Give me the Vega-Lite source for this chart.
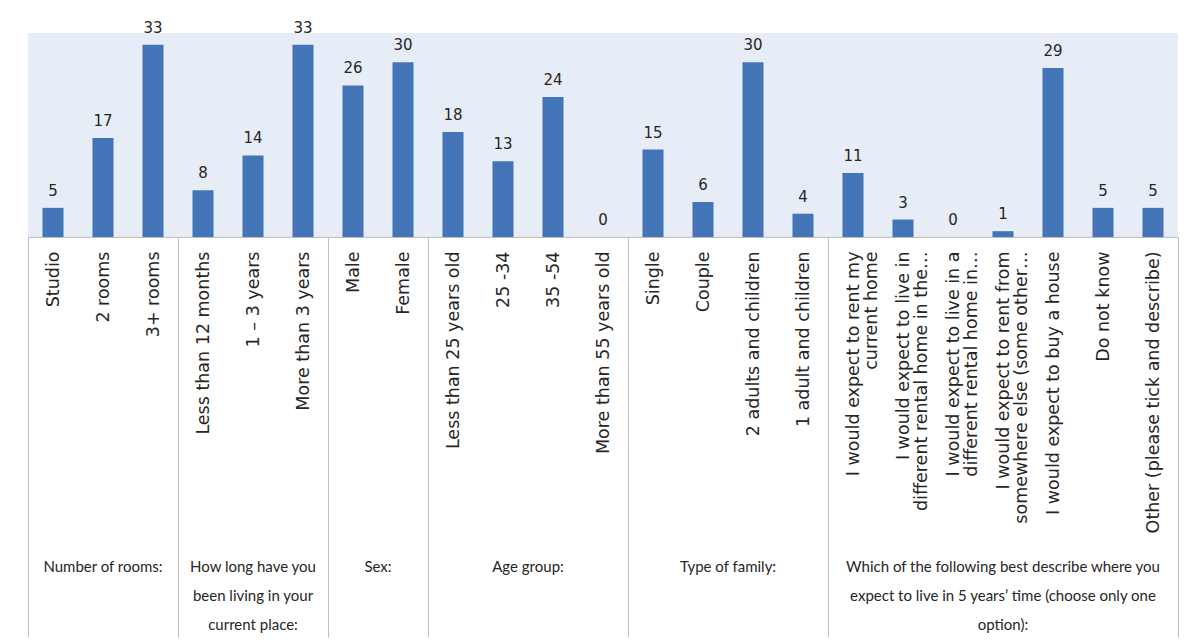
{
  "$schema": "https://vega.github.io/schema/vega-lite/v6.json",
  "padding": {"left": 27, "top": 20, "right": 0, "bottom": 0},
  "autosize": {"type": "pad"},
  "background": "white",
  "bounds": "flush",
  "data": {"values": [
    {"group": "Number of rooms:", "category": "Studio", "value": 5},
    {"group": "Number of rooms:", "category": "2 rooms", "value": 17},
    {"group": "Number of rooms:", "category": "3+ rooms", "value": 33},
    {"group": "How long have you|been living in your|current place:", "category": "Less than 12  months", "value": 8},
    {"group": "How long have you|been living in your|current place:", "category": "1 – 3 years", "value": 14},
    {"group": "How long have you|been living in your|current place:", "category": "More than 3 years", "value": 33},
    {"group": "Sex:", "category": "Male", "value": 26},
    {"group": "Sex:", "category": "Female", "value": 30},
    {"group": "Age group:", "category": "Less than 25 years old", "value": 18},
    {"group": "Age group:", "category": "25 -34", "value": 13},
    {"group": "Age group:", "category": "35 -54", "value": 24},
    {"group": "Age group:", "category": "More than 55 years old", "value": 0},
    {"group": "Type of family:", "category": "Single", "value": 15},
    {"group": "Type of family:", "category": "Couple", "value": 6},
    {"group": "Type of family:", "category": "2 adults and children", "value": 30},
    {"group": "Type of family:", "category": "1 adult and children", "value": 4},
    {"group": "Which of the following best describe where you|expect to live in 5 years’ time (choose only one|option):", "category": "I would expect to rent my|current home", "value": 11},
    {"group": "Which of the following best describe where you|expect to live in 5 years’ time (choose only one|option):", "category": "I would expect to live in|different rental home in the…", "value": 3},
    {"group": "Which of the following best describe where you|expect to live in 5 years’ time (choose only one|option):", "category": "I would expect to live in a|different rental home in…", "value": 0},
    {"group": "Which of the following best describe where you|expect to live in 5 years’ time (choose only one|option):", "category": "I would expect to rent from|somewhere else (some other…", "value": 1},
    {"group": "Which of the following best describe where you|expect to live in 5 years’ time (choose only one|option):", "category": "I would expect to buy a house", "value": 29},
    {"group": "Which of the following best describe where you|expect to live in 5 years’ time (choose only one|option):", "category": "Do not know", "value": 5},
    {"group": "Which of the following best describe where you|expect to live in 5 years’ time (choose only one|option):", "category": "Other (please tick and describe)", "value": 5}
  ]},
  "facet": {
    "column": {
      "field": "group",
      "type": "nominal",
      "sort": [
        "Number of rooms:",
        "How long have you|been living in your|current place:",
        "Sex:",
        "Age group:",
        "Type of family:",
        "Which of the following best describe where you|expect to live in 5 years’ time (choose only one|option):"
      ],
      "header": {
        "title": null,
        "labelOrient": "bottom",
        "labelExpr": "split(datum.value, '|')",
        "labelFont": "Lato",
        "labelFontSize": 15,
        "labelColor": "#262626",
        "labelLineHeight": 29,
        "labelBaseline": "top",
        "labelPadding": 323,
        "labelLimit": 0
      }
    }
  },
  "spacing": 0,
  "resolve": {"scale": {"x": "independent"}},
  "spec": {
    "width": {"step": 50},
    "height": 204,
    "encoding": {
      "x": {
        "field": "category",
        "type": "nominal",
        "sort": null,
        "title": null,
        "scale": {"paddingInner": 0, "paddingOuter": 0},
        "axis": {
          "labelAngle": -90,
          "labelExpr": "split(datum.label, '|')",
          "labelFont": "DejaVu Sans",
          "labelFontSize": {"condition": {"test": "datum.index === -1", "value": 0}, "value": 17.5},
          "labelColor": "#262626",
          "labelLineHeight": 18,
          "labelLimit": 0,
          "labelPadding": -386,
          "domainColor": "#BFBFBF",
          "tickBand": "extent",
          "tickSize": 400,
          "tickColor": "#BFBFBF",
          "tickOpacity": {"condition": {"test": "datum.index === -1 || datum.index === 1", "value": 1}, "value": 0}
        }
      },
      "y": {
        "field": "value",
        "type": "quantitative",
        "scale": {"domain": [0, 35]},
        "axis": null
      }
    },
    "layer": [
      {"mark": {"type": "bar", "color": "#4374B7", "width": {"band": 0.42}}},
      {
        "mark": {"type": "text", "baseline": "bottom", "dy": -9, "font": "DejaVu Sans", "fontSize": 15, "color": "#262626"},
        "encoding": {"text": {"field": "value", "type": "quantitative"}}
      }
    ]
  },
  "config": {
    "view": {"fill": "#E6EDF7", "stroke": null}
  }
}
